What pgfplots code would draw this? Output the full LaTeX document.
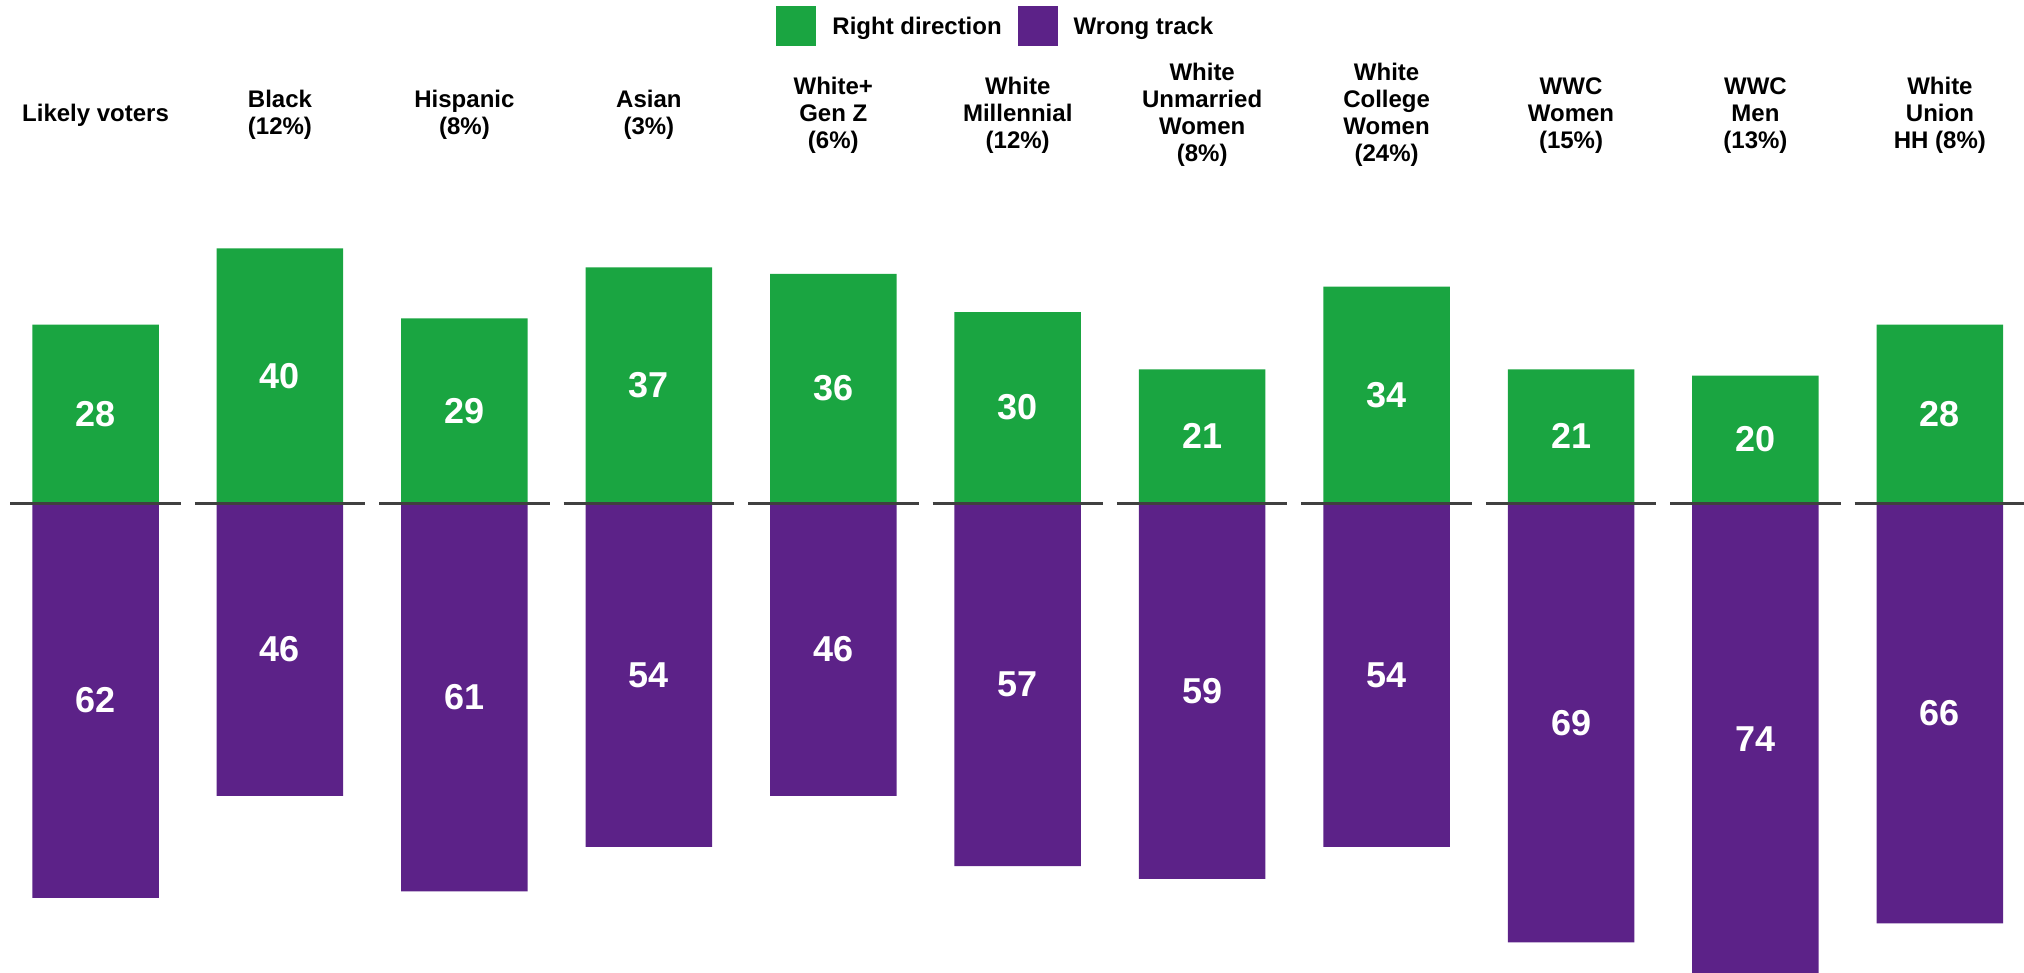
\documentclass[border=0pt]{standalone}
\usepackage{fontspec}
\setmainfont{Liberation Sans}
\usepackage{pgfplots}
\usepackage{pgfplotstable}
\pgfplotsset{compat=1.18}

\definecolor{rightgreen}{RGB}{26,165,65}
\definecolor{wrongpurple}{RGB}{92,34,136}

% x = category index, r = right direction, w = wrong track
\pgfplotstableread{
x r w
0 28 62
1 40 46
2 29 61
3 37 54
4 36 46
5 30 57
6 21 59
7 34 54
8 21 69
9 20 74
10 28 66
}\tracktable

\newcommand{\catfont}{\fontsize{12}{13.5}\selectfont\bfseries}

\begin{document}
\begin{tikzpicture}[cat/.style={align=center, font=\catfont, anchor=center}]
	\begin{axis} [
		scale only axis,
		width=1012pt, height=486.5pt,
		hide axis,
		xmin=-0.518, xmax=10.456,
		ymin=-73.8, ymax=79.0,
		clip mode=individual,
		/pgf/number format/assume math mode=true,
		legend columns=2,
		legend style={
			at={(axis description cs:0.3834,0.9733)}, anchor=west,
			draw=none, fill=none, inner sep=0pt,
			font=\catfont,
			/tikz/every even column/.append style={column sep=8pt},
			nodes={inner sep=0pt, text depth=0pt},
		},
		legend cell align=left,
		legend image code/.code={\fill[#1] (0pt,-10pt) rectangle (20pt,10pt);},
		]
		\addplot [ybar, bar width=0.686, bar shift=0pt, fill=rightgreen, draw=none]
			table [x=x, y=r] {\tracktable};
		\addlegendentry{\hspace{8pt}Right direction}
		\addplot [ybar, bar width=0.686, bar shift=0pt, fill=wrongpurple, draw=none]
			table [x=x, y expr=-\thisrow{w}] {\tracktable};
		\addlegendentry{\hspace{8pt}Wrong track}

		% dashed zero line, one piece per category
		\addplot [black!75, line width=1.5pt, mark=none, unbounded coords=jump, forget plot]
			coordinates {
				(-0.462,0) (0.462,0) (0.5,nan)
				(0.538,0) (1.462,0) (1.5,nan)
				(1.538,0) (2.462,0) (2.5,nan)
				(2.538,0) (3.462,0) (3.5,nan)
				(3.538,0) (4.462,0) (4.5,nan)
				(4.538,0) (5.462,0) (5.5,nan)
				(5.538,0) (6.462,0) (6.5,nan)
				(6.538,0) (7.462,0) (7.5,nan)
				(7.538,0) (8.462,0) (8.5,nan)
				(8.538,0) (9.462,0) (9.5,nan)
				(9.538,0) (10.462,0)
			};

		% value labels in the middle of each bar
		\addplot [draw=none, mark=none, forget plot, point meta=explicit,
			nodes near coords,
			every node near coord/.append style={anchor=center, text=white,
				font=\fontsize{18}{20}\selectfont\bfseries}]
			table [x=x, y expr=\thisrow{r}/2, meta=r] {\tracktable};
		\addplot [draw=none, mark=none, forget plot, point meta=explicit,
			nodes near coords,
			every node near coord/.append style={anchor=center, text=white,
				font=\fontsize{18}{20}\selectfont\bfseries}]
			table [x=x, y expr=-\thisrow{w}/2, meta=w] {\tracktable};

		% category labels
		\node[cat] at (axis cs:0,60.9) {Likely voters};
		\node[cat] at (axis cs:1,60.9) {Black\\(12\%)};
		\node[cat] at (axis cs:2,60.9) {Hispanic\\(8\%)};
		\node[cat] at (axis cs:3,60.9) {Asian\\(3\%)};
		\node[cat] at (axis cs:4,60.9) {White+\\Gen Z\\(6\%)};
		\node[cat] at (axis cs:5,60.9) {White\\Millennial\\(12\%)};
		\node[cat] at (axis cs:6,60.9) {White\\Unmarried\\Women\\(8\%)};
		\node[cat] at (axis cs:7,60.9) {White\\College\\Women\\(24\%)};
		\node[cat] at (axis cs:8,60.9) {WWC\\Women\\(15\%)};
		\node[cat] at (axis cs:9,60.9) {WWC\\Men\\(13\%)};
		\node[cat] at (axis cs:10,60.9) {White\\Union\\HH (8\%)};
		\path (rel axis cs:0,0) rectangle (rel axis cs:1,1);
	\end{axis}
\end{tikzpicture}
\end{document}
